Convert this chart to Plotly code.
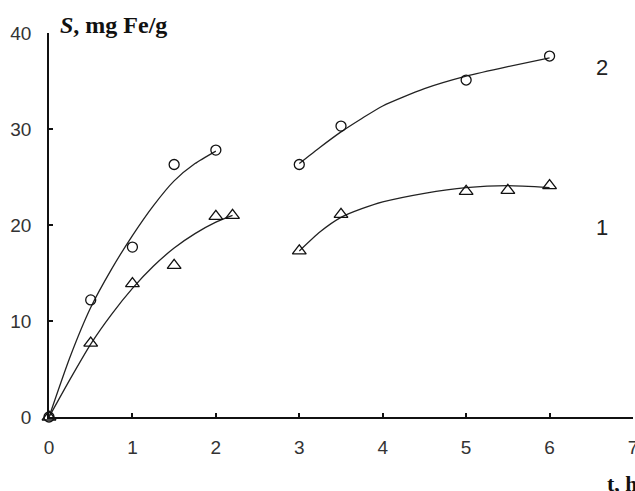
import plotly.graph_objects as go

# Measured points
t_s2 = [0, 0.5, 1, 1.5, 2, 3, 3.5, 5, 6]
s_s2 = [0, 12.2, 17.7, 26.3, 27.8, 26.3, 30.3, 35.1, 37.6]
t_s1 = [0, 0.5, 1, 1.5, 2, 2.2, 3, 3.5, 5, 5.5, 6]
s_s1 = [0, 7.7, 13.9, 15.8, 20.9, 21.0, 17.3, 21.1, 23.5, 23.6, 24.1]

# Trend curves
c2a_t = [0, 0.25, 0.5, 0.75, 1, 1.25, 1.5, 1.75, 2]
c2a_s = [0, 6.2, 11.4, 15.4, 18.9, 22.0, 24.6, 26.4, 27.7]
c2b_t = [3, 3.25, 3.5, 3.75, 4, 4.5, 5, 5.5, 6]
c2b_s = [26.4, 28.1, 29.7, 31.1, 32.4, 34.2, 35.5, 36.5, 37.4]
c1a_t = [0, 0.25, 0.5, 0.75, 1, 1.25, 1.5, 1.75, 2, 2.2]
c1a_s = [0, 3.9, 7.6, 10.7, 13.4, 15.7, 17.6, 19.1, 20.3, 21.0]
c1b_t = [3, 3.25, 3.5, 3.75, 4, 4.5, 5, 5.5, 6]
c1b_s = [17.3, 19.3, 20.8, 21.7, 22.4, 23.3, 23.9, 24.1, 23.9]

x_ticks = [0, 1, 2, 3, 4, 5, 6, 7]
y_ticks = [0, 10, 20, 30, 40]

line_style = dict(color="#222222", width=1.3, shape="spline", smoothing=0.6)

fig = go.Figure()
for ct, cs in [(c2a_t, c2a_s), (c2b_t, c2b_s), (c1a_t, c1a_s), (c1b_t, c1b_s)]:
    fig.add_trace(go.Scatter(x=ct, y=cs, mode="lines", line=line_style,
                             showlegend=False, hoverinfo="skip", cliponaxis=False))

fig.add_trace(go.Scatter(x=t_s2, y=s_s2, mode="markers", showlegend=False, cliponaxis=False,
                         marker=dict(symbol="circle-open", size=10, color="#111111",
                                     line=dict(width=1.3, color="#111111"))))
fig.add_trace(go.Scatter(x=t_s1, y=s_s1, mode="markers", showlegend=False, cliponaxis=False,
                         marker=dict(symbol="triangle-up-open", size=12, color="#111111",
                                     line=dict(width=1.3, color="#111111"))))

fig.update_layout(
    width=635, height=491,
    margin=dict(l=49, r=2, t=33, b=74),
    paper_bgcolor="white", plot_bgcolor="white",
    font=dict(family="Liberation Sans, Arial", size=19, color="#333333"),
    xaxis=dict(range=[0, 7], tickvals=x_ticks, showgrid=False, zeroline=False,
               showline=True, linecolor="#111111", linewidth=1.6,
               ticks="inside", ticklen=4, tickwidth=1.5, tickcolor="#111111",
               ticklabeloverflow="allow", ticklabelstandoff=12, automargin=False),
    yaxis=dict(range=[0, 40], tickvals=y_ticks, showgrid=False, zeroline=False,
               showline=True, linecolor="#111111", linewidth=1.6,
               ticks="inside", ticklen=4, tickwidth=1.5, tickcolor="#111111",
               ticklabelstandoff=12, automargin=False),
    annotations=[
        dict(x=6.63, y=36.4, xref="x", yref="y", text="2", showarrow=False,
             font=dict(family="Liberation Sans, Arial", size=22, color="#222222")),
        dict(x=6.63, y=19.7, xref="x", yref="y", text="1", showarrow=False,
             font=dict(family="Liberation Sans, Arial", size=22, color="#222222")),
        dict(x=0.015, y=1.022, xref="paper", yref="paper", xanchor="left", yanchor="middle",
             text="<b><i>S</i>, mg Fe/g</b>", showarrow=False,
             font=dict(family="Liberation Serif, Times New Roman", size=24, color="#111111")),
        dict(x=0.952, y=-0.172, xref="paper", yref="paper", xanchor="left", yanchor="middle",
             text="<b>t, h</b>", showarrow=False,
             font=dict(family="Liberation Serif, Times New Roman", size=22, color="#111111")),
    ],
)

fig.write_html("out.html")
